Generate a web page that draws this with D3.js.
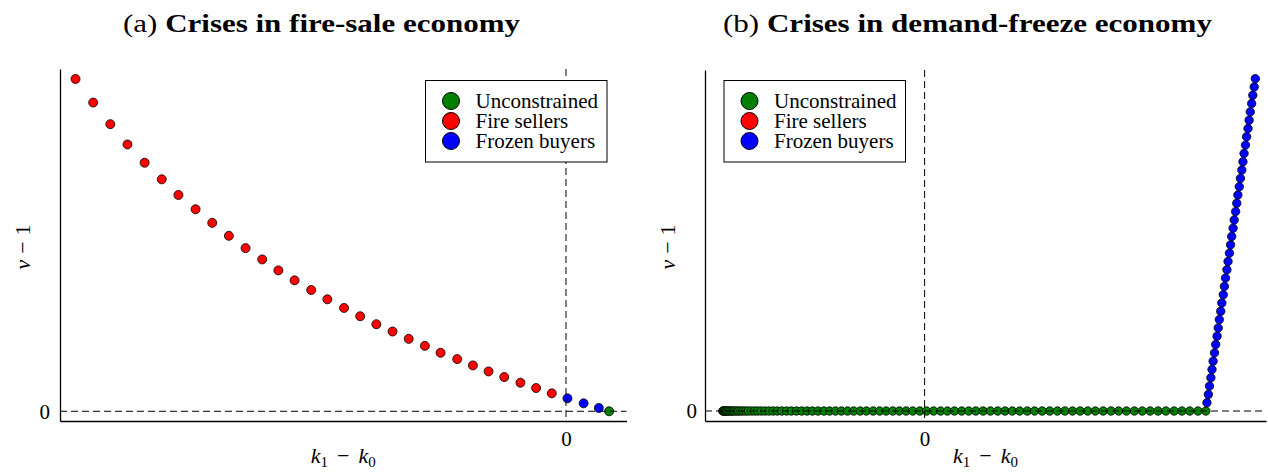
<!DOCTYPE html>
<html><head><meta charset="utf-8">
<script src="https://cdn.jsdelivr.net/npm/d3@7"></script>
<style>body{margin:0;background:#fff}svg{display:block}
text{font-family:"Liberation Serif",serif}</style>
</head><body><svg id="c" width="1268" height="472"></svg>
<script>
// ---------- data (arbitrary units; only 0 is labelled) ----------
const legendLabels = ["Unconstrained", "Fire sellers", "Frozen buyers"];
const legendColors = ["#008000", "#ff0000", "#0000ff"];
const xTickValues = [0];
const yTickValues = [0];

// (a) fire-sale economy
const fsRedX = [-1.001,-0.965,-0.930,-0.895,-0.860,-0.825,-0.791,-0.756,-0.722,-0.688,
  -0.654,-0.620,-0.587,-0.554,-0.520,-0.487,-0.453,-0.420,-0.387,-0.354,
  -0.321,-0.288,-0.256,-0.222,-0.190,-0.158,-0.126,-0.093,-0.061,-0.029];
const fsRedY = [1.000,0.929,0.864,0.803,0.748,0.698,0.651,0.608,0.567,0.528,
  0.491,0.457,0.424,0.394,0.365,0.337,0.311,0.286,0.262,0.240,
  0.218,0.197,0.176,0.157,0.138,0.120,0.103,0.086,0.070,0.054];
const fsBlueX = [0.003, 0.036, 0.067];
const fsBlueY = [0.039, 0.024, 0.010];
const fsGreenX = [0.088];
const fsGreenY = [0.000];

// (b) demand-freeze economy
const dfGreenX = [-0.718,-0.715,-0.712,-0.709,-0.706,-0.703,-0.699,-0.695,-0.690,-0.685,
  -0.680,-0.674,-0.667,-0.661,-0.653,-0.645,-0.636,-0.627,-0.616,-0.605,
  -0.594,-0.581,-0.568,-0.554,-0.539,-0.524,-0.508,-0.491,-0.474,-0.456,
  -0.437,-0.418,-0.399,-0.379,-0.358,-0.338,-0.317,-0.296,-0.274,-0.252,
  -0.229,-0.207,-0.183,-0.160,-0.137,-0.113,-0.090,-0.066,-0.042,-0.017,
  0.007,0.032,0.057,0.081,0.106,0.132,0.157,0.182,0.208,0.234,
  0.260,0.286,0.312,0.338,0.365,0.391,0.418,0.445,0.472,0.499,
  0.526,0.553,0.580,0.607,0.635,0.663,0.690,0.718,0.746,
  0.774,0.802,0.830,0.858,0.887,0.915,0.943,0.972,1.000];
const dfGreenY = [0,0,0,0,0,0,0,0,0,0, 0,0,0,0,0,0,0,0,0,0, 0,0,0,0,0,0,0,0,0,0,
  0,0,0,0,0,0,0,0,0,0, 0,0,0,0,0,0,0,0,0,0, 0,0,0,0,0,0,0,0,0,0,
  0,0,0,0,0,0,0,0,0,0, 0,0,0,0,0,0,0,0,0, 0,0,0,0,0,0,0,0,0];
const dfBlueX = [1.004,1.009,1.013,1.018,1.022,1.026,1.031,1.035,1.040,1.044,
  1.048,1.053,1.057,1.062,1.066,1.070,1.075,1.079,1.084,1.088,
  1.092,1.097,1.101,1.106,1.110,1.114,1.119,1.123,1.128,1.132,
  1.136,1.141,1.145,1.150,1.154,1.158,1.163,1.167,1.172,1.176];
const dfBlueY = [0.025,0.050,0.075,0.100,0.125,0.150,0.175,0.200,0.225,0.250,
  0.275,0.300,0.325,0.350,0.375,0.400,0.425,0.450,0.475,0.500,
  0.525,0.550,0.575,0.600,0.625,0.650,0.675,0.700,0.725,0.750,
  0.775,0.800,0.825,0.850,0.875,0.900,0.925,0.950,0.975,1.000];

// ---------- drawing ----------
const svg = d3.select("#c");
svg.append("rect").attr("width",1268).attr("height",472).attr("fill","#fff");
const SERIF = '"Liberation Serif", serif';

function panel(cfg) {
  const x = d3.scaleLinear().domain(cfg.xDomain).range(cfg.xRange);
  const y = d3.scaleLinear().domain(cfg.yDomain).range(cfg.yRange);
  const g = svg.append("g");

  // axes (left and bottom only)
  const ax = g.append("g").attr("transform", `translate(0,${cfg.yRange[0]})`)
    .call(d3.axisBottom(x).tickValues(xTickValues).tickSize(0).tickSizeOuter(0).tickPadding(10).tickFormat(d3.format("d")));
  const ay = g.append("g").attr("transform", `translate(${cfg.xRange[0]},0)`)
    .call(d3.axisLeft(y).tickValues(yTickValues).tickSize(0).tickSizeOuter(0).tickPadding(cfg.yPad).tickFormat(d3.format("d")));
  [ax, ay].forEach(a => {
    a.attr("font-family", null);
    a.select(".domain").attr("stroke","#000").attr("stroke-width",1.3);
    a.selectAll("text").style("font-family",SERIF).attr("font-size",21).attr("fill","#000");
  });

  // scatter series
  cfg.series.forEach(s => {
    g.append("g").selectAll("circle").data(d3.zip(s.x, s.y)).join("circle")
      .attr("cx", d => x(d[0])).attr("cy", d => y(d[1])).attr("r", cfg.r)
      .attr("fill", s.color).attr("stroke","#000").attr("stroke-width",0.8);
  });

  // dashed reference lines (drawn over the points)
  g.append("line").attr("x1", cfg.xRange[0]).attr("x2", cfg.xRange[1])
    .attr("y1", y(0)).attr("y2", y(0))
    .attr("stroke","#000").attr("stroke-width",1).attr("stroke-dasharray","7,4");
  g.append("line").attr("x1", x(0)).attr("x2", x(0))
    .attr("y1", cfg.yRange[1]).attr("y2", cfg.yRange[0])
    .attr("stroke","#000").attr("stroke-width",1).attr("stroke-dasharray","7,4");

  // legend
  const lg = g.append("g").attr("transform", `translate(${cfg.legend[0]},${cfg.legend[1]})`);
  lg.append("rect").attr("width",cfg.legend[2]).attr("height",81.5)
    .attr("fill","#fff").attr("stroke","#000").attr("stroke-width",1);
  const rowY = [20.5, 40.5, 60.5];
  legendLabels.forEach((lab, i) => {
    lg.append("circle").attr("cx",25.5).attr("cy",rowY[i]).attr("r",8.5)
      .attr("fill",legendColors[i]).attr("stroke","#000").attr("stroke-width",1);
    lg.append("text").attr("x",50).attr("y",rowY[i]+6.8).text(lab)
      .style("font-family",SERIF).attr("font-size",21);
  });

  // title
  const t = svg.append("text").attr("x",cfg.titleX).attr("y",32).attr("text-anchor","middle")
    .style("font-family",SERIF).attr("font-size",26)
    .attr("textLength", cfg.titleW).attr("lengthAdjust","spacingAndGlyphs");
  t.append("tspan").text(cfg.titleA + " ");
  t.append("tspan").attr("font-weight","bold").text(cfg.titleB);

  // y label
  const yl = svg.append("text").attr("transform",`translate(${cfg.xRange[0]-30},247) rotate(-90)`)
    .attr("text-anchor","middle").style("font-family",SERIF).attr("font-size",22);
  yl.append("tspan").attr("font-style","italic").text("ν");
  yl.append("tspan").attr("dx",6).text("−");
  yl.append("tspan").attr("dx",6).text("1");

  // x label
  const xl = svg.append("text").attr("x",(cfg.xRange[0]+cfg.xRange[1])/2).attr("y",463)
    .attr("text-anchor","middle").style("font-family",SERIF).attr("font-size",22);
  xl.append("tspan").attr("font-style","italic").text("k");
  xl.append("tspan").attr("font-size",15).attr("dy",4).text("1");
  xl.append("tspan").attr("dy",-4).attr("dx",9).text("−");
  xl.append("tspan").attr("dx",9).attr("font-style","italic").text("k");
  xl.append("tspan").attr("font-size",15).attr("dy",4).text("0");
}

panel({
  xDomain: [-1.0327, 0.1235], xRange: [60, 626.5],
  yDomain: [-0.0292, 1.030], yRange: [421, 69],
  r: 4.5, yPad: 10,
  series: [
    {x: fsRedX, y: fsRedY, color: legendColors[1]},
    {x: fsBlueX, y: fsBlueY, color: legendColors[2]},
    {x: fsGreenX, y: fsGreenY, color: legendColors[0]}
  ],
  legend: [425.5, 80.5, 181.5],
  titleX: 321.5, titleW: 397, titleA: "(a)", titleB: "Crises in fire-sale economy"
});

panel({
  xDomain: [-0.781, 1.214], xRange: [705, 1266],
  yDomain: [-0.030, 1.026], yRange: [421, 70],
  r: 4.2, yPad: 8,
  series: [
    {x: dfGreenX, y: dfGreenY, color: legendColors[0]},
    {x: dfBlueX, y: dfBlueY, color: legendColors[2]}
  ],
  legend: [724, 80.5, 181.5],
  titleX: 967.5, titleW: 489, titleA: "(b)", titleB: "Crises in demand-freeze economy"
});
</script></body></html>
